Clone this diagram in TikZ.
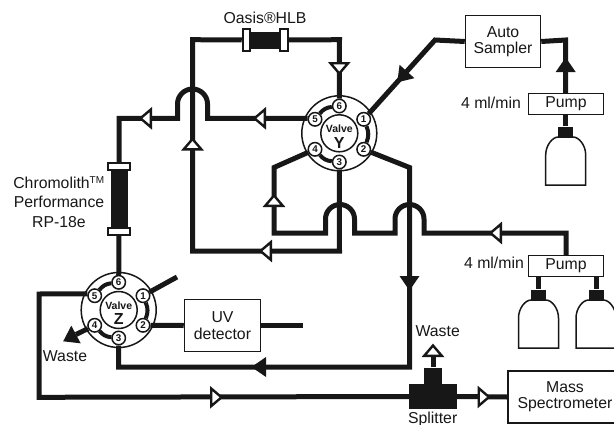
\documentclass[tikz,border=0pt]{standalone}
\usepackage{fontspec}
\setmainfont{Liberation Sans}
\usetikzlibrary{calc}
\definecolor{inkdark}{gray}{0.09}
\tikzset{
  flowline/.style={draw=inkdark,line width=5pt,miter limit=10},
  portlink/.style={draw=inkdark,line width=4pt},
  thinbox/.style={draw=inkdark,line width=1.5pt,fill=white,inner sep=0pt,align=center,text=inkdark,font=\fontsize{15.8}{16.3}\selectfont},
  labeltext/.style={inner sep=0pt,align=center,text=inkdark,font=\fontsize{15.8}{16.3}\selectfont},
  valvering/.style={circle,draw=inkdark,line width=1.5pt,fill=white,minimum size=75pt,inner sep=0pt},
  valvehub/.style={circle,draw=inkdark,line width=1.5pt,fill=white,minimum size=37pt,inner sep=0pt},
  valveword/.style={inner sep=0pt,text=inkdark,font=\fontsize{10.5}{11}\bfseries\selectfont},
  valveletter/.style={inner sep=0pt,text=inkdark,font=\fontsize{16}{16}\bfseries\selectfont},
  valveport/.style={circle,draw=inkdark,line width=1.5pt,fill=white,minimum size=13.5pt,inner sep=0pt,text=inkdark,font=\fontsize{9.8}{10}\bfseries\selectfont},
  blackpart/.style={fill=inkdark,inner sep=0pt},
  fitting/.style={draw=inkdark,line width=2pt,fill=white,inner sep=0pt},
  hollowtip/.pic={\draw[draw=inkdark,line width=2.4pt,fill=white,line join=miter] (1.2,-8.8) -- (11.5,0) -- (1.2,8.8) -- cycle;},
  solidtip/.pic={\fill[inkdark] (0,-10) -- (14.5,0) -- (0,10) -- cycle;},
  bottle/.pic={\draw[draw=inkdark,line width=1.5pt,fill=white] (-20,-48) -- (-20,-18) .. controls (-20,-8) and (-13,0) .. (-7.5,0) -- (7.5,0) .. controls (13,0) and (20,-8) .. (20,-18) -- (20,-48) -- cycle;}
}
\begin{document}
\begin{tikzpicture}[x=1pt,y=1pt]
\useasboundingbox (0,0) rectangle (614,-424);

% valve Y
\node[valvering] (ringy) at (339.3,-133.3) {};
\node[valvehub] (huby) at (339.3,-133.3) {};
\node[valveword] (wordy) at (339.3,-128.3) {Valve};
\node[valveletter] (lettery) at (339.3,-142.7) {Y};
\node[valveport] (y1) at (363.7,-119.3) {1};
\node[valveport] (y2) at (363.7,-149.3) {2};
\node[valveport] (y3) at (339.3,-162) {3};
\node[valveport] (y4) at (315,-149.3) {4};
\node[valveport] (y5) at (315,-119.3) {5};
\node[valveport] (y6) at (339.3,-106) {6};

% valve Z
\node[valvering] (ringz) at (118.7,-310) {};
\node[valvehub] (hubz) at (118.7,-310) {};
\node[valveword] (wordz) at (118.7,-305.7) {Valve};
\node[valveletter] (letterz) at (118.7,-318.5) {Z};
\node[valveport] (z1) at (143,-295.7) {1};
\node[valveport] (z2) at (143,-325.3) {2};
\node[valveport] (z3) at (118.7,-338) {3};
\node[valveport] (z4) at (94.7,-325.3) {4};
\node[valveport] (z5) at (94.7,-295.7) {5};
\node[valveport] (z6) at (118.7,-282.3) {6};

\draw[portlink] (y5) to[bend left=22] (y6);
\draw[portlink] (y1) to[bend left=22] (y2);
\draw[portlink] (y3) to[bend left=22] (y4);
\draw[portlink] (z5) to[bend left=22] (z6);
\draw[portlink] (z1) to[bend left=22] (z2);
\draw[portlink] (z3) to[bend left=22] (z4);

% boxes
\node[thinbox,minimum width=75pt,minimum height=52pt] (sampler) at (503,-41.5) {Auto\\Sampler};
\node[thinbox,minimum width=75pt,minimum height=21pt] (pumpa) at (566,-104) {Pump};
\node[thinbox,minimum width=75pt,minimum height=21pt] (pumpb) at (566,-266) {Pump};
\node[thinbox,minimum width=76pt,minimum height=52pt] (uvbox) at (222.5,-325.5) {UV\\detector};
\node[thinbox,minimum width=114pt,minimum height=52pt] (massbox) at (565,-397) {Mass\\Spectrometer};

% columns
\node[blackpart,minimum width=30pt,minimum height=17pt] (oasisbody) at (265,-40.5) {};
\node[fitting,minimum width=7.5pt,minimum height=22.5pt] (oasisl) at (246.5,-40) {};
\node[fitting,minimum width=7.5pt,minimum height=22.5pt] (oasisr) at (284,-40) {};
\node[blackpart,minimum width=17pt,minimum height=58pt] (chromobody) at (119.5,-199) {};
\node[fitting,minimum width=22pt,minimum height=7pt] (chromot) at (119,-166.5) {};
\node[fitting,minimum width=22pt,minimum height=7pt] (chromob) at (119,-231.5) {};

% splitter
\node[blackpart,minimum width=48pt,minimum height=25pt] (splitbody) at (433,-396.5) {};
\node[blackpart,minimum width=18pt,minimum height=17pt] (splittop) at (433,-376) {};
\coordinate (splitout) at (433,-357);

% bottles
\node[blackpart,minimum width=15pt,minimum height=11pt] (capa) at (565.7,-132) {};
\node[blackpart,minimum width=15pt,minimum height=11pt] (capb) at (538.5,-295) {};
\node[blackpart,minimum width=15pt,minimum height=11pt] (capc) at (596,-295) {};
\pic at (565.7,-137) {bottle};
\pic at (538.5,-300) {bottle};
\pic at (596,-300) {bottle};

% free ends
\coordinate (zfree) at (177,-277);
\coordinate (uvfree) at (303,-325.5);
\coordinate (wastez) at (76,-334.5);

% flow lines
\draw[flowline] (oasisr) -- (339.5,-39.7) -- (y6);
\draw[flowline] (y5.172) -- (207.5,-118.4) -- (207.5,-104) arc[start angle=0,end angle=180,radius=15] -- (177.5,-118.4) -- (119,-118.4) -- (chromot);
\draw[flowline] (chromob) -- (z6);
\draw[flowline] (y3) -- (339.5,-251) -- (192.5,-251) -- (192.5,-39.7) -- (oasisl);
\draw[flowline] (y4) -- (274,-167.5) -- (274,-233) -- (325.5,-233) -- (325.5,-219) arc[start angle=180,end angle=0,radius=14.5] -- (354.5,-233) -- (395,-233) -- (395,-219) arc[start angle=180,end angle=0,radius=14.5] -- (424,-233) -- (566,-233) -- (pumpb.north);
\draw[flowline] (y2) -- (409.5,-167.5) -- (409.5,-367) -- (118.7,-367) -- (z3);
\draw[flowline] (y1) -- (435,-40) -- (sampler.west);
\draw[flowline] (sampler.east) -- (565.7,-40) -- (pumpa.north -| 565.7,-40);
\draw[flowline] (pumpa.south -| capa) -- (capa);
\draw[flowline] (pumpb.south -| capb) -- (capb);
\draw[flowline] (pumpb.south -| capc) -- (capc);
\draw[flowline] (z1) -- (zfree);
\draw[flowline] (z2) -- (uvbox.west);
\draw[flowline] (uvbox.east) -- (uvfree);
\draw[flowline] (z4) -- (wastez);
\draw[flowline] (z5.165) -- (39,-294) -- (39,-397.3) -- (splitbody.west);
\draw[flowline] (splitbody.east) -- (massbox.west);
\draw[flowline] (splittop) -- (splitout);

% flow marks
\pic[rotate=-90] at (339.3,-62) {hollowtip};
\pic[rotate=180] at (266,-118.3) {hollowtip};
\pic[rotate=180] at (152,-118.3) {hollowtip};
\pic[rotate=90] at (192.5,-150.5) {hollowtip};
\pic[rotate=90] at (274,-207) {hollowtip};
\pic[rotate=180] at (272,-251) {hollowtip};
\pic[rotate=180] at (502,-233) {hollowtip};
\pic at (210,-397.3) {hollowtip};
\pic at (477.5,-397) {hollowtip};
\pic[rotate=90] at (433,-357) {hollowtip};
\pic[rotate=228] at (407,-71.5) {solidtip};
\pic[rotate=90] at (565.7,-72) {solidtip};
\pic[rotate=-90] at (409.5,-276) {solidtip};
\pic[rotate=180] at (266,-367) {solidtip};
\pic[rotate=208] at (76,-334.5) {solidtip};

% labels
\node[labeltext] (oasislabel) at (265,-18) {Oasis®HLB};
\node[labeltext,font=\fontsize{15.8}{19.5}\selectfont] (chromolabel) at (59,-202) {Chromolith\textsuperscript{\fontsize{10}{10}\selectfont TM}\\Performance\\RP-18e};
\node[labeltext] (ratea) at (491,-103) {4 ml/min};
\node[labeltext] (rateb) at (494,-263) {4 ml/min};
\node[labeltext] (wastea) at (65,-355.7) {Waste};
\node[labeltext] (wasteb) at (437.7,-330.7) {Waste};
\node[labeltext] (splitlabel) at (432.7,-419.5) {Splitter};
\end{tikzpicture}
\end{document}
